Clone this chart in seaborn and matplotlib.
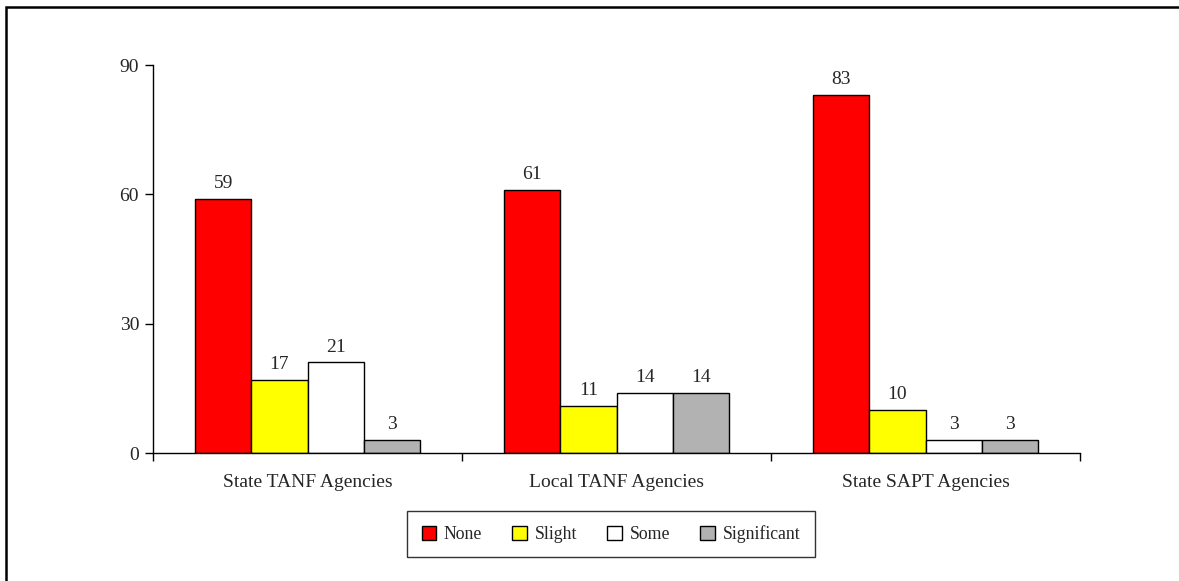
import matplotlib
matplotlib.use("Agg")
import matplotlib.pyplot as plt
import matplotlib.patches as mpatches
import seaborn as sns
import pandas as pd

# Agency groups and level categories
agencies = ["State TANF Agencies", "Local TANF Agencies", "State SAPT Agencies"]
levels = ["None", "Slight", "Some", "Significant"]
none_vals = [59, 61, 83]
slight_vals = [17, 11, 10]
some_vals = [21, 14, 3]
significant_vals = [3, 14, 3]
y_ticks = [0, 30, 60, 90]

colors = ["#FF0000", "#FFFF00", "#FFFFFF", "#B2B2B2"]

rows = []
for lvl, vals in zip(levels, [none_vals, slight_vals, some_vals, significant_vals]):
    for ag, v in zip(agencies, vals):
        rows.append({"Agency": ag, "Level": lvl, "Value": v})
df = pd.DataFrame(rows)

sns.set_style("white")
plt.rcParams["font.family"] = ["Liberation Serif", "DejaVu Serif"]

fig = plt.figure(figsize=(11.79, 5.81), dpi=100)
ax = fig.add_axes([153 / 1179, 1 - 453 / 581, (1080 - 153) / 1179, (453 - 65) / 581])

sns.barplot(data=df, x="Agency", y="Value", hue="Level", order=agencies,
            hue_order=levels, palette=colors, edgecolor="black", linewidth=1,
            width=0.728, saturation=1, gap=0, ax=ax, legend=False, errorbar=None)

for cont in ax.containers:
    ax.bar_label(cont, labels=[f"{int(v)}" for v in cont.datavalues],
                 padding=5, fontsize=14)

ax.set_ylim(0, 90)
ax.set_yticks(y_ticks)
ax.set_xlim(-0.5, 2.5)
ax.set_xticks([-0.5, 0.5, 1.5, 2.5])
ax.set_xticklabels([])
ax.set_xticks([0, 1, 2], minor=True)
ax.set_xticklabels(agencies, minor=True, fontsize=14)
ax.tick_params(axis="x", which="major", direction="out", length=6, width=1,
               color="black", bottom=True)
ax.tick_params(axis="x", which="minor", length=0, pad=15)
ax.tick_params(axis="y", direction="out", length=6, width=1, color="black",
               left=True, labelsize=14, pad=4)
ax.set_xlabel("")
ax.set_ylabel("")
for side in ["top", "right"]:
    ax.spines[side].set_visible(False)
for side in ["left", "bottom"]:
    ax.spines[side].set_color("black")
    ax.spines[side].set_linewidth(1)

handles = [mpatches.Patch(facecolor=c, edgecolor="black", linewidth=1, label=l)
           for c, l in zip(colors, levels)]
leg = fig.legend(handles=handles, loc="center", ncol=4,
                 bbox_to_anchor=(611 / 1179, 1 - 534 / 581), frameon=True,
                 fontsize=12.8, handlelength=0.8, handleheight=0.8,
                 handletextpad=0.45, columnspacing=1.7, fancybox=False,
                 borderpad=0.8, borderaxespad=0)
leg.get_frame().set_edgecolor("black")
leg.get_frame().set_linewidth(1)

# outer frame around the chart area
frame = mpatches.Rectangle((6 / 1179, -0.1), 1.2, 1 - 7 / 581 + 0.1,
                           transform=fig.transFigure, fill=False,
                           edgecolor="black", linewidth=1.8, clip_on=False)
fig.patches.append(frame)

fig.savefig("out.png", dpi=100)
